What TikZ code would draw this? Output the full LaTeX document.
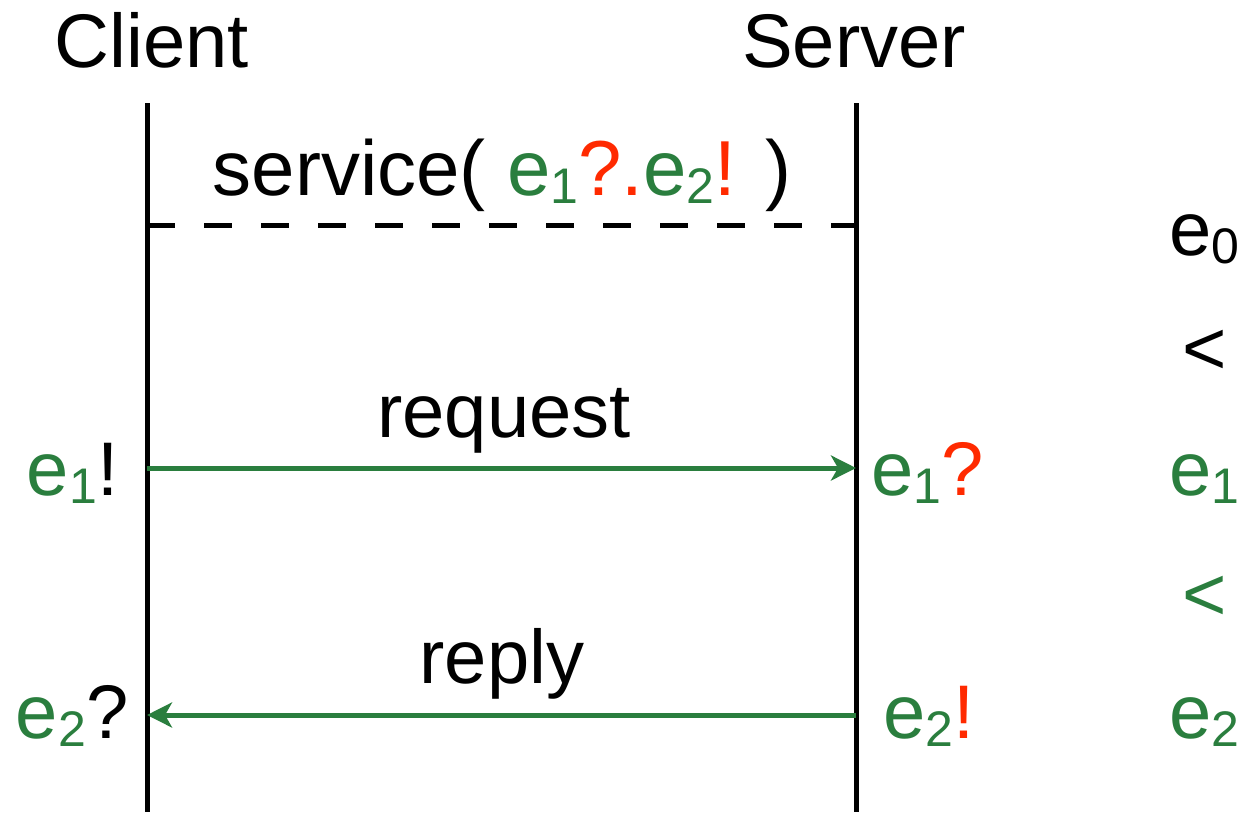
\documentclass[tikz,border=0pt]{standalone}
\usepackage{fontspec}
\setmainfont{Liberation Sans}
\usetikzlibrary{arrows.meta}
\definecolor{evgreen}{HTML}{2A7E3E}
\definecolor{evred}{HTML}{FF2A00}
\newcommand{\evsub}[1]{\raisebox{-8pt}{\fontsize{50}{50}\selectfont #1}}
\begin{document}
\begin{tikzpicture}[x=1pt,y=-1pt,
  txt/.style={inner sep=0pt,outer sep=0pt,font=\fontsize{76}{80}\selectfont},
  lifeline/.style={line width=5pt,black},
  msg/.style={line width=5pt,evgreen,-{Stealth[length=25pt,width=25pt,inset=7pt]}},
  sep/.style={line width=5pt,black,dash pattern=on 28pt off 29pt}]
\useasboundingbox (0,0) rectangle (1253,812);
% lifeline end points
\coordinate (ctop) at (147,103);
\coordinate (cbot) at (147,812);
\coordinate (stop) at (856,103);
\coordinate (sbot) at (856,812);
\coordinate (dashc) at (147,225);
\coordinate (dashs) at (856,225);
\coordinate (reqc) at (147,468);
\coordinate (reqs) at (856,468);
\coordinate (repc) at (147,715);
\coordinate (reps) at (856,715);
% titles
\node[txt,anchor=base] (client) at (152,67) {Client};
\node[txt,anchor=base] (server) at (854,67) {Server};
% lifelines
\draw[lifeline] (ctop) -- (cbot);
\draw[lifeline] (stop) -- (sbot);
% service
\node[txt,anchor=base,font=\fontsize{78}{80}\selectfont] (service) at (502,195) {service( \textcolor{evgreen}{e\evsub{1}}\textcolor{evred}{?.}\textcolor{evgreen}{e\evsub{2}}\textcolor{evred}{!} )};
\draw[sep] (dashc) -- (dashs);
% request
\node[txt,anchor=base] (request) at (504,437) {request};
\draw[msg] (reqc) -- (reqs);
\node[txt,anchor=base west] (e1send) at (27,495) {\textcolor{evgreen}{e\evsub{1}}!};
\node[txt,anchor=base west] (e1recv) at (871,495) {\textcolor{evgreen}{e\evsub{1}}\textcolor{evred}{?}};
% reply
\node[txt,anchor=base] (reply) at (502,683) {reply};
\draw[msg] (reps) -- (repc);
\node[txt,anchor=base west] (e2recv) at (16,738) {\textcolor{evgreen}{e\evsub{2}}?};
\node[txt,anchor=base west] (e2send) at (883,738) {\textcolor{evgreen}{e\evsub{2}}\textcolor{evred}{!}};
% ordering column
\node[txt,anchor=base west] (o0) at (1169,255) {e\evsub{0}};
\node[txt,anchor=base west] (lt1) at (1182,374) {<};
\node[txt,anchor=base west,text=evgreen] (o1) at (1169,495) {e\evsub{1}};
\node[txt,anchor=base west,text=evgreen] (lt2) at (1182,620) {<};
\node[txt,anchor=base west,text=evgreen] (o2) at (1169,738) {e\evsub{2}};
\end{tikzpicture}
\end{document}
